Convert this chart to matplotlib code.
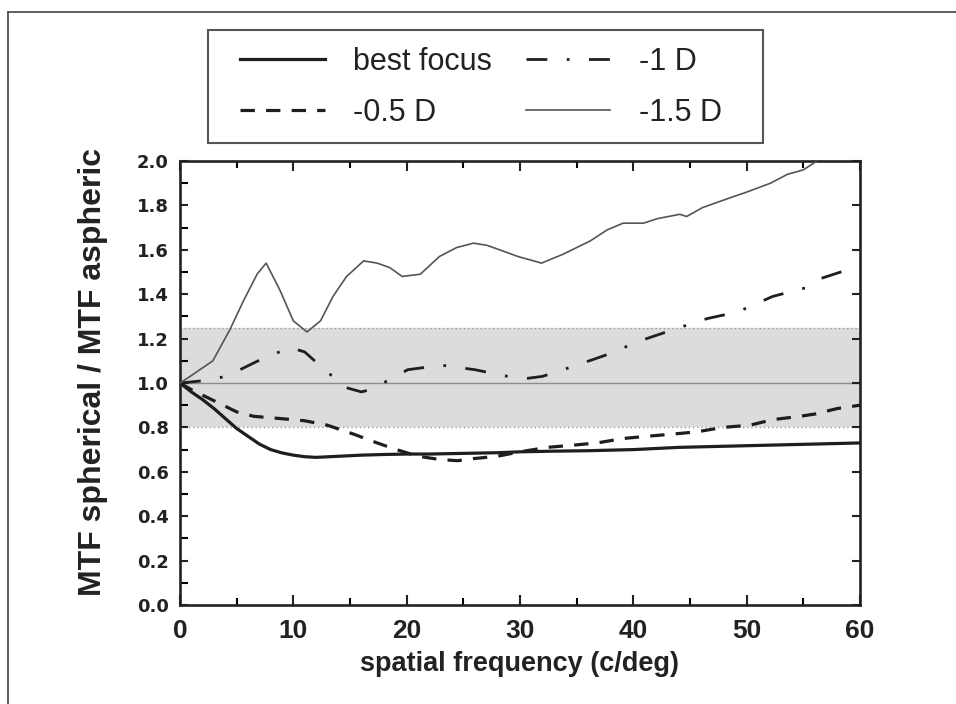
import matplotlib
matplotlib.use("Agg")
import matplotlib.pyplot as plt
from matplotlib.lines import Line2D
from matplotlib.patches import Rectangle
from matplotlib.ticker import MultipleLocator

plt.rcParams['font.family'] = ['Liberation Sans', 'DejaVu Sans']

# ---- data ----
best_x = [0, 1, 2, 3, 4, 5, 6, 7, 8, 9, 10, 11, 12, 14, 16, 18, 20, 22, 24, 26, 28, 30,
          33, 36, 40, 44, 48, 52, 56, 60]
best_y = [1.0, 0.96, 0.925, 0.885, 0.84, 0.795, 0.76, 0.725, 0.70, 0.685, 0.675, 0.668,
          0.665, 0.67, 0.675, 0.678, 0.68, 0.68, 0.682, 0.684, 0.686, 0.69,
          0.693, 0.695, 0.70, 0.71, 0.715, 0.72, 0.725, 0.73]

d05_x = [0, 1, 2, 3, 4, 5, 6.5, 8.8, 11, 13, 15.3, 17.4, 19.1, 21, 23, 24.5, 26, 28, 30,
         32.4, 34.7, 36.8, 39.1, 41.2, 43.5, 45.6, 47.9, 50.3, 52.3, 54.7, 56, 58, 60]
d05_y = [1.0, 0.97, 0.945, 0.92, 0.895, 0.87, 0.85, 0.84, 0.83, 0.81, 0.77, 0.73, 0.70,
         0.67, 0.655, 0.65, 0.66, 0.67, 0.69, 0.71, 0.72, 0.73, 0.75, 0.76, 0.77, 0.78,
         0.80, 0.81, 0.835, 0.85, 0.86, 0.885, 0.90]

d1_x = [0, 2, 4.1, 6.9, 9.7, 11, 12.1, 13, 14.6, 16, 16.8, 18.3, 20.1, 23.1, 26, 28.9,
        30.5, 32, 35, 37.8, 40.6, 43.5, 46.5, 49.2, 52.3, 55.3, 56.5, 58.9, 60]
d1_y = [1.0, 1.01, 1.03, 1.10, 1.16, 1.14, 1.09, 1.05, 0.98, 0.96, 0.97, 1.01, 1.06,
        1.08, 1.06, 1.03, 1.02, 1.03, 1.08, 1.13, 1.19, 1.24, 1.29, 1.32, 1.39, 1.43,
        1.47, 1.51, 1.53]

d15_x = [0, 0.9, 2.9, 4.4, 5.6, 6.8, 7.6, 8.8, 10, 11.2, 12.4, 13.5, 14.7, 16.2, 17.4,
         18.5, 19.6, 21.2, 22.9, 24.4, 25.9, 27.1, 28.2, 29.8, 31.9, 33.8, 36.2, 37.7,
         39.1, 40.9, 42.1, 44.1, 44.7, 46.1, 48.3, 50, 52.1, 53.6, 55, 55.9, 57]
d15_y = [1.0, 1.03, 1.10, 1.24, 1.37, 1.49, 1.54, 1.42, 1.28, 1.23, 1.28, 1.39, 1.48,
         1.55, 1.54, 1.52, 1.48, 1.49, 1.57, 1.61, 1.63, 1.62, 1.60, 1.57, 1.54, 1.58,
         1.64, 1.69, 1.72, 1.72, 1.74, 1.76, 1.75, 1.79, 1.83, 1.86, 1.90, 1.94, 1.96,
         1.99, 2.03]

band_low, band_high = 0.8, 1.25
labels = ['best focus', '-0.5 D', '-1 D', '-1.5 D']
xticks = [0, 10, 20, 30, 40, 50, 60]
yticks = [0.0, 0.2, 0.4, 0.6, 0.8, 1.0, 1.2, 1.4, 1.6, 1.8, 2.0]

# ---- figure ----
W, H = 956, 704
fig = plt.figure(figsize=(W / 100, H / 100), dpi=100)
ax = fig.add_axes([180 / W, 1 - 605 / H, 680 / W, 444 / H])

ax.axhspan(band_low, band_high, color='#dcdcde', lw=0, zorder=0)
for yb in (band_low, band_high):
    ax.axhline(yb, color='#999999', lw=1.0, ls=(0, (1, 2)), zorder=1)
ax.axhline(1.0, color='#8c8c8c', lw=1.0, zorder=1)

l_best, = ax.plot(best_x, best_y, color='#1e1e1e', lw=2.3, zorder=3)
l_05, = ax.plot(d05_x, d05_y, color='#1e1e1e', lw=2.3, ls=(0, (4.5, 3.5)), zorder=3)
l_1, = ax.plot(d1_x, d1_y, color='#1e1e1e', lw=2.0, ls=(0, (7.5, 7, 1, 7)), zorder=3)
l_15, = ax.plot(d15_x, d15_y, color='#555555', lw=1.2, zorder=3)

ax.set_xlim(0, 60)
ax.set_ylim(0, 2.0)
ax.set_xticks(xticks)
ax.set_yticks(yticks)
ax.set_xticklabels([str(v) for v in xticks])
ax.set_yticklabels([f"{v:.1f}" for v in yticks])
ax.xaxis.set_minor_locator(MultipleLocator(5))
ax.yaxis.set_minor_locator(MultipleLocator(0.1))

for s in ax.spines.values():
    s.set_linewidth(1.9)
    s.set_color('#222222')

ax.tick_params(axis='x', which='major', direction='in', length=7, width=1.5,
               top=True, bottom=True, labelsize=19, pad=10, colors='#222222')
ax.tick_params(axis='x', which='minor', direction='in', length=5, width=1.5,
               top=True, bottom=True)
ax.tick_params(axis='y', which='major', direction='in', length=5.5, width=1.5,
               left=True, right=True, labelsize=13, pad=8, colors='#222222')
ax.tick_params(axis='y', which='minor', direction='in', length=5.5, width=1.5,
               left=True, right=False)
for t in ax.get_xticklabels():
    t.set_fontweight('bold')
for t in ax.get_yticklabels():
    t.set_fontweight('bold')
    t.set_family(['DejaVu Sans'])

ax.set_xlabel('spatial frequency (c/deg)', fontsize=19.5, fontweight='bold',
              color='#222222', labelpad=6)
ax.set_ylabel('MTF spherical / MTF aspheric', fontsize=23, fontweight='bold',
              color='#222222')
ax.yaxis.set_label_coords((108 - 180) / 680, 0.525)

# legend (frameless, with a separate box drawn around it)
handles = [l_best, l_05, l_1, l_15]
leg = fig.legend(handles, labels, ncol=2, loc='upper left',
                 bbox_to_anchor=(240 / W, 1 - 47 / H),
                 fontsize=22, handlelength=2.78, handletextpad=0.92,
                 labelspacing=0.68, columnspacing=1.1, borderpad=0,
                 borderaxespad=0, frameon=False)
for t in leg.get_texts():
    t.set_color('#222222')
fig.add_artist(Rectangle((208 / W, 1 - 143 / H), (763 - 208) / W, (143 - 30) / H,
                         transform=fig.transFigure, fill=False,
                         edgecolor='#555555', lw=1.5))

# page border (top and left)
fig.add_artist(Line2D([8 / W, 8 / W], [0, 1 - 12 / H], transform=fig.transFigure,
                      color='#444444', lw=1.2))
fig.add_artist(Line2D([8 / W, 1], [1 - 12 / H, 1 - 12 / H], transform=fig.transFigure,
                      color='#444444', lw=1.2))

fig.savefig('out.png', dpi=100)
